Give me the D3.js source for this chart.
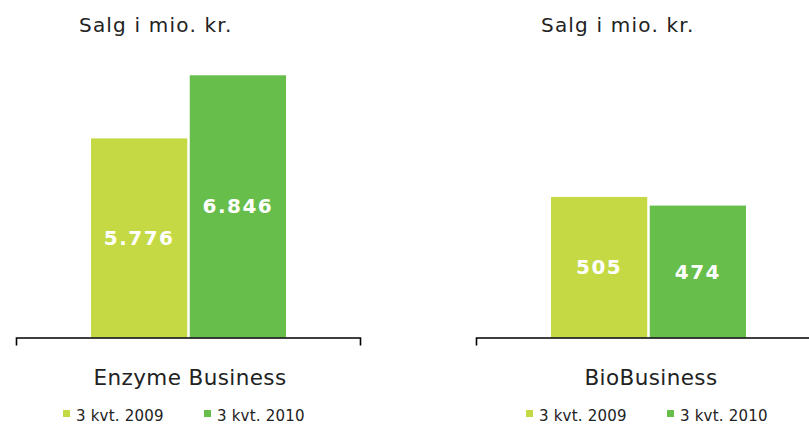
<!DOCTYPE html>
<html>
<head>
<meta charset="utf-8">
<script src="https://cdn.jsdelivr.net/npm/d3@7"></script>
<style>
  body { margin: 0; background: #fff; }
  svg { display: block; font-family: Verdana, "DejaVu Sans", sans-serif; }
</style>
</head>
<body>
<script>
// Data
const categories = ["Enzyme Business", "BioBusiness"];
const series = ["3 kvt. 2009", "3 kvt. 2010"];
const enzymeValues = [5776, 6846];
const bioValues = [505, 474];
const titleText = "Salg i mio. kr.";

const width = 809;
const height = 425;
const baseY = 337.5;

const color = d3.scaleOrdinal()
    .domain(series)
    .range(["#c4d943", "#67be4b"]);

// Danish number format: "." as thousands separator
const fmt = d3.formatLocale({ decimal: ",", thousands: ".", grouping: [3], currency: ["", " kr."] }).format(",d");

const svg = d3.select("body").append("svg")
    .attr("width", width)
    .attr("height", height)
    .attr("viewBox", [0, 0, width, height]);

// panel settings (left: Enzyme Business, right: BioBusiness)
const panels = [
    { name: categories[0], values: enzymeValues, domain: [2400, 7000], topY: 66.2,
      axisRange: [16, 360], barRange: [91, 286], titleX: 79, labelX: 190, legendX: [63, 204] },
    { name: categories[1], values: bioValues, domain: [0, 600], topY: 170.5,
      axisRange: [476, 815], barRange: [551, 746], titleX: 541, labelX: 651, legendX: [526, 667] }
];

panels.forEach(p => {
    const g = svg.append("g");

    const x = d3.scaleBand()
        .domain(series)
        .range(p.barRange)
        .paddingInner(0.025);

    const y = d3.scaleLinear()
        .domain(p.domain)
        .range([baseY, p.topY]);

    // Title
    g.append("text")
        .attr("x", p.titleX)
        .attr("y", 31.5)
        .attr("font-size", "20px")
        .attr("letter-spacing", "1.2px")
        .attr("fill", "#222")
        .text(titleText);

    // Bars
    const data = series.map((s, i) => ({ s, v: p.values[i] }));
    g.selectAll("rect.bar")
        .data(data)
        .join("rect")
        .attr("class", "bar")
        .attr("x", d => x(d.s))
        .attr("y", d => y(d.v))
        .attr("width", x.bandwidth())
        .attr("height", d => baseY - y(d.v))
        .attr("fill", d => color(d.s));

    // Value labels
    g.selectAll("text.val")
        .data(data)
        .join("text")
        .attr("class", "val")
        .attr("x", d => x(d.s) + x.bandwidth() / 2)
        .attr("y", d => (y(d.v) + baseY) / 2 + 7)
        .attr("text-anchor", "middle")
        .attr("fill", "#fff")
        .attr("font-size", "20px")
        .attr("font-weight", "bold")
        .attr("letter-spacing", "1.5px")
        .text(d => fmt(d.v));

    // Axis line with end ticks
    const ax = d3.scaleLinear().range(p.axisRange);
    g.append("g")
        .attr("transform", `translate(0,${baseY})`)
        .call(d3.axisBottom(ax).tickValues([]).tickSizeOuter(8))
        .call(a => a.select(".domain").attr("stroke", "#000").attr("stroke-width", 1.6));

    // Category label
    g.append("text")
        .attr("x", p.labelX)
        .attr("y", 385)
        .attr("text-anchor", "middle")
        .attr("font-size", "21.5px")
        .attr("letter-spacing", "0.4px")
        .attr("fill", "#222")
        .text(p.name);

    // Legend
    series.forEach((s, i) => {
        const lg = g.append("g").attr("transform", `translate(${p.legendX[i]},410)`);
        lg.append("rect")
            .attr("width", 7)
            .attr("height", 7)
            .attr("fill", color(s));
        lg.append("text")
            .attr("x", 13)
            .attr("y", 10.5)
            .attr("font-size", "15px")
            .attr("letter-spacing", "0.2px")
            .attr("fill", "#222")
            .text(s);
    });
});
</script>
</body>
</html>
